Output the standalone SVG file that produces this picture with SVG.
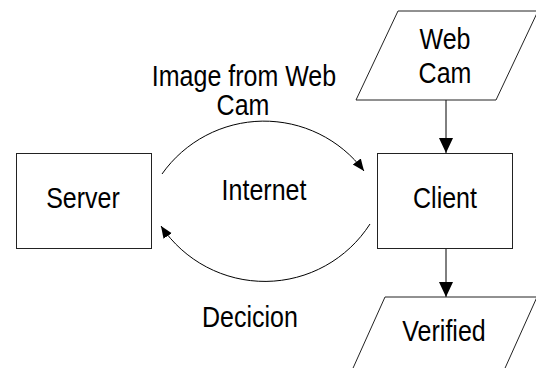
<svg xmlns="http://www.w3.org/2000/svg" width="536" height="368" viewBox="0 0 536 368">
<style>
.shape{fill:#fff;stroke:#222;stroke-width:1}
.lbl{font-family:"Liberation Sans",Arial,sans-serif;font-size:25px;fill:#000;text-anchor:middle}
.conn{fill:none;stroke:#000;stroke-width:1}
</style>
<defs>
<marker id="bigArrow" markerUnits="userSpaceOnUse" markerWidth="16" markerHeight="18" viewBox="0 0 16 18" refX="15" refY="9" orient="auto">
<path d="M0,2 L15,9 L0,16 Z" fill="#000"/>
</marker>
<marker id="smallArrow" markerUnits="userSpaceOnUse" markerWidth="14" markerHeight="12" viewBox="0 0 14 12" refX="12" refY="6" orient="auto">
<path d="M0,1 L12,6 L0,11 Z" fill="#000"/>
</marker>
</defs>
<rect width="536" height="368" fill="#fff"/>
<g id="connectors">
<path class="conn" d="M162,174 A125,125 0 0 1 364,171" marker-end="url(#smallArrow)"/>
<path class="conn" d="M370,224 A125,125 0 0 1 161,226" marker-end="url(#smallArrow)"/>
<path class="conn" d="M446,100 L446,153" marker-end="url(#bigArrow)"/>
<path class="conn" d="M446,249 L446,297" marker-end="url(#bigArrow)"/>
</g>
<g id="server">
<rect class="shape" x="16.5" y="153.5" width="135" height="95"/>
<text class="lbl" transform="translate(83,208) scale(1,1.15)">Server</text>
</g>
<g id="client">
<rect class="shape" x="377.5" y="153.5" width="135" height="95"/>
<text class="lbl" transform="translate(445,208) scale(1,1.15)">Client</text>
</g>
<g id="webcam">
<polygon class="shape" points="398,11 538,11 496,100 356,100"/>
<text class="lbl" transform="translate(445,49) scale(1,1.15)">Web</text>
<text class="lbl" transform="translate(445,83) scale(1,1.15)">Cam</text>
</g>
<g id="verified">
<polygon class="shape" points="385,297 537,297 497,386 345,386"/>
<text class="lbl" transform="translate(444,341) scale(1,1.15)">Verified</text>
</g>
<g id="labels">
<text class="lbl" transform="translate(244,86) scale(1,1.15)">Image from Web</text>
<text class="lbl" transform="translate(243,115) scale(1,1.15)">Cam</text>
<text class="lbl" transform="translate(264,200) scale(1,1.15)">Internet</text>
<text class="lbl" transform="translate(250,327) scale(1,1.15)">Decicion</text>
</g>
</svg>
